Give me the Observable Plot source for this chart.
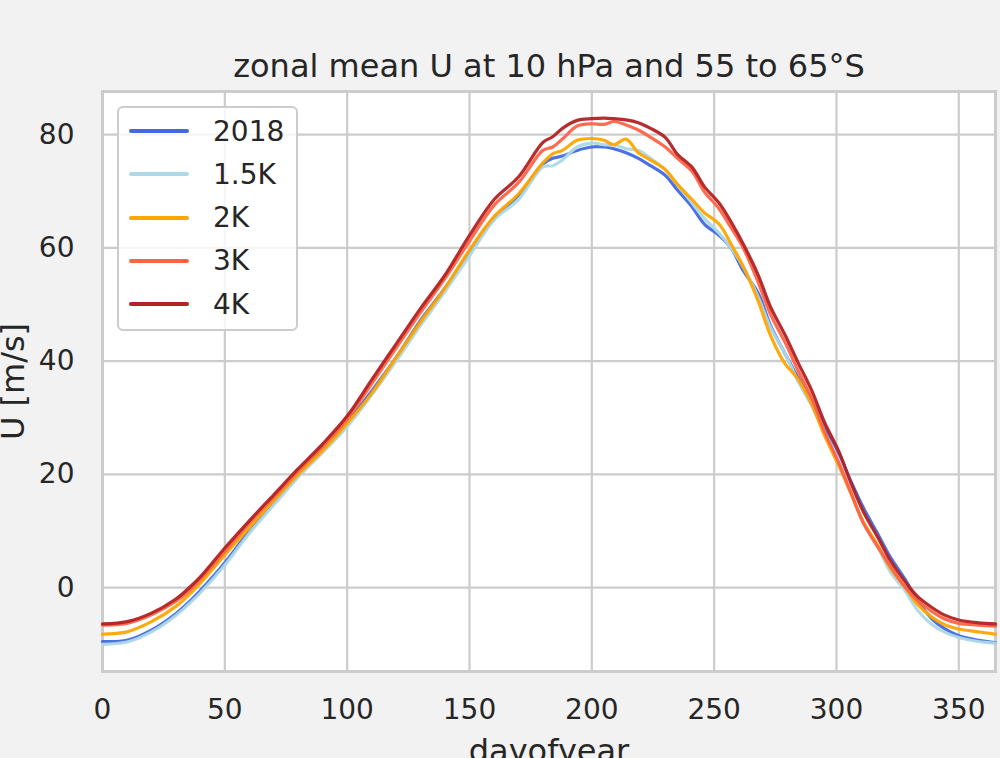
<!DOCTYPE html>
<html>
<head>
<meta charset="utf-8">
<script src="https://cdn.jsdelivr.net/npm/d3@7"></script>
<script src="https://cdn.jsdelivr.net/npm/@observablehq/plot@0.6"></script>
<style>
html, body { margin: 0; padding: 0; background: #f2f2f2; overflow: hidden; width: 1000px; height: 758px; }
#wrap { position: relative; width: 1000px; height: 758px; }
#wrap svg { position: absolute; left: 0; top: 0; }
#legend { position: absolute; left: 117px; top: 106px; width: 177px; height: 221px; border: 2px solid #cccccc; border-radius: 6px; background: rgba(255,255,255,0.8); font-family: "DejaVu Sans"; font-size: 28px; color: #262626; }
#legend .sw { position: absolute; left: 10px; width: 60px; height: 4px; border-radius: 2px; }
#legend .lab { position: absolute; left: 94px; height: 43px; line-height: 43px; white-space: nowrap; }
</style>
</head>
<body>
<div id="wrap"></div>
<script>
const title = "zonal mean U at 10 hPa and 55 to 65°S";
const xLabel = "dayofyear";
const yLabel = "U [m/s]";
const xTicks = [0, 50, 100, 150, 200, 250, 300, 350];
const yTicks = [0, 20, 40, 60, 80];

const seriesNames = ["2018", "1.5K", "2K", "3K", "4K"];
const seriesColors = ["#4169e1", "#add8e6", "#ffa500", "#ff6347", "#b22222"];

const days = [0, 10, 20, 30, 35, 40, 50, 60, 70, 80, 90, 100, 110, 120, 130, 140, 150, 160, 170, 180,
  184, 188, 194, 200, 205, 209, 214, 219, 224, 230,
  235, 241, 246, 252, 257, 262, 268, 273, 279, 284,
  290, 295, 301, 306, 311, 317, 322, 328, 333, 339,
  344, 350, 358, 365];

const u2018 = [-9.5, -9.3, -7.5, -4.6, -2.7, -0.5, 4.4, 10.0, 15.0, 20.0, 24.7, 29.2, 34.7, 40.6, 47.2, 52.9, 59.2, 65.2, 69.2, 74.8,
  75.8, 76.2, 77.2, 77.8, 77.8, 77.5, 76.8, 75.8, 74.5, 72.8,
  70.2, 67.2, 64.2, 62.2, 59.9, 55.9, 52.0, 46.3, 41.3, 37.3,
  33.0, 28.6, 23.7, 18.7, 14.1, 9.4, 5.4, 1.5, -2.2, -5.5,
  -7.2, -8.5, -9.3, -9.7];

const u15K = [-10.0, -9.6, -7.8, -4.9, -3.0, -0.9, 4.0, 9.6, 14.6, 19.5, 23.9, 28.4, 34.0, 40.0, 46.3, 52.3, 58.6, 64.9, 68.5, 74.3,
  74.5, 75.5, 77.8, 78.5, 78.2, 78.2, 77.5, 77.2, 75.8, 73.8,
  71.2, 67.9, 65.2, 62.6, 59.9, 56.6, 51.3, 46.0, 41.3, 36.7,
  32.0, 27.4, 22.0, 16.7, 11.4, 7.1, 2.8, -0.5, -3.9, -6.5,
  -7.8, -8.8, -9.5, -9.8];

const u2K = [-8.2, -7.8, -6.0, -3.3, -1.4, 0.8, 5.8, 10.6, 15.4, 20.0, 24.2, 29.0, 34.3, 40.6, 46.9, 52.9, 59.6, 65.5, 69.5, 75.0,
  76.6, 77.2, 79.0, 79.3, 79.0, 78.2, 79.2, 76.8, 75.5, 73.8,
  71.2, 68.5, 66.2, 64.2, 60.6, 56.6, 50.6, 44.6, 39.5, 37.0,
  32.3, 27.0, 21.5, 16.5, 11.6, 7.4, 3.5, 0.1, -2.9, -5.2,
  -6.5, -7.3, -7.8, -8.2];

const u3K = [-6.6, -6.3, -4.8, -2.4, -0.7, 1.5, 6.4, 11.4, 16.0, 20.6, 25.0, 29.8, 36.0, 42.3, 48.6, 54.6, 61.2, 67.5, 71.5, 77.2,
  77.8, 79.2, 81.5, 81.9, 81.8, 82.3, 81.7, 80.8, 79.5, 77.8,
  75.8, 73.5, 69.9, 66.9, 63.5, 59.9, 53.9, 48.3, 43.3, 38.6,
  33.3, 27.7, 22.0, 16.7, 11.4, 7.1, 3.8, 0.1, -2.2, -4.2,
  -5.5, -6.3, -6.6, -6.8];

const u4K = [-6.4, -6.0, -4.5, -2.0, -0.2, 1.9, 7.0, 11.8, 16.4, 21.0, 25.4, 30.3, 36.7, 43.0, 49.3, 55.2, 62.2, 68.5, 72.5, 78.6,
  79.6, 81.1, 82.5, 82.8, 82.9, 82.8, 82.6, 82.1, 81.1, 79.5,
  76.5, 74.2, 70.8, 67.9, 64.5, 60.6, 55.2, 49.6, 44.6, 40.0,
  34.7, 29.3, 24.0, 18.4, 13.4, 8.8, 4.8, 1.1, -1.5, -3.5,
  -4.8, -5.7, -6.2, -6.4];

const seriesValues = [u2018, u15K, u2K, u3K, u4K];

const rows = [];
seriesNames.forEach((name, i) => {
  days.forEach((d, j) => rows.push({day: d, u: seriesValues[i][j], series: name}));
});

const chart = Plot.plot({
  width: 1000,
  height: 790,
  marginLeft: 102,
  marginRight: 5,
  marginTop: 91,
  marginBottom: 119,
  style: {background: "transparent", fontFamily: "DejaVu Sans", fontSize: "28px", color: "#262626"},
  x: {domain: [0, 365]},
  y: {domain: [-14.8, 87.6]},
  color: {domain: seriesNames, range: seriesColors},
  marks: [
    Plot.frame({fill: "white", stroke: null}),
    Plot.ruleX(xTicks, {stroke: "#cccccc", strokeWidth: 2.2}),
    Plot.ruleY(yTicks, {stroke: "#cccccc", strokeWidth: 2.2}),
    Plot.frame({stroke: "#cccccc", strokeWidth: 3}),
    Plot.line(rows, {x: "day", y: "u", stroke: "series", z: "series", strokeWidth: 3.2, curve: "catmull-rom", strokeOpacity: 0.95}),
    Plot.axisX(xTicks, {tickSize: 0, tickPadding: 28, label: null, fontSize: 28}),
    Plot.axisY(yTicks, {tickSize: 0, tickPadding: 28, label: null, fontSize: 28}),
    Plot.text([xLabel], {text: d => d, frameAnchor: "bottom", dy: 68, lineAnchor: "top", textAnchor: "middle", fontSize: 32}),
    Plot.text([yLabel], {text: d => d, frameAnchor: "left", dx: -89, rotate: -90, textAnchor: "middle", lineAnchor: "middle", fontSize: 32}),
    Plot.text([title], {text: d => d, frameAnchor: "top", dy: -25, textAnchor: "middle", lineAnchor: "middle", fontSize: 32})
  ]
});

const wrap = document.getElementById("wrap");
wrap.appendChild(chart);

const legend = document.createElement("div");
legend.id = "legend";
seriesNames.forEach((name, i) => {
  const cy = 23 + i * 43.3;
  const sw = document.createElement("div");
  sw.className = "sw";
  sw.style.top = (cy - 2) + "px";
  sw.style.background = seriesColors[i];
  const lab = document.createElement("div");
  lab.className = "lab";
  lab.style.top = (cy - 21.5) + "px";
  lab.textContent = name;
  legend.appendChild(sw);
  legend.appendChild(lab);
});
wrap.appendChild(legend);
</script>
</body>
</html>
